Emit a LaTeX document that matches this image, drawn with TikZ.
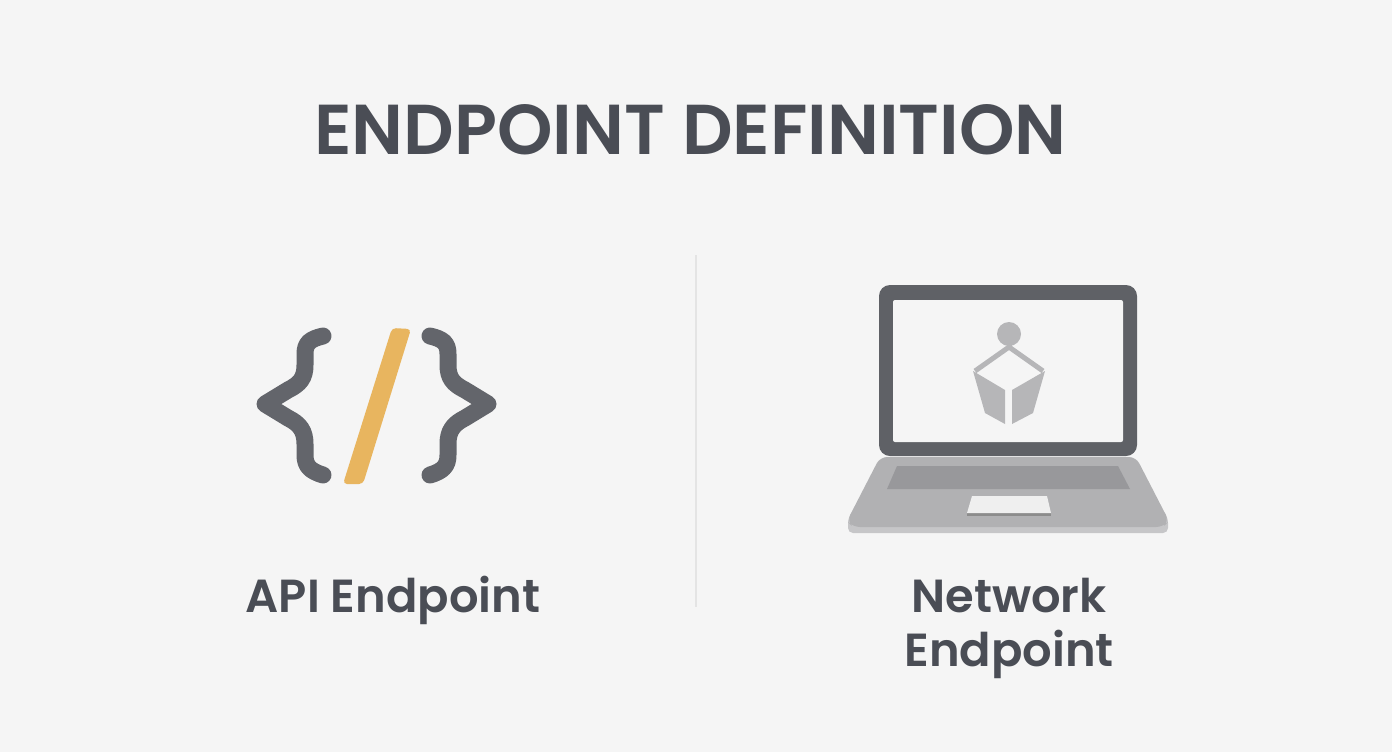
\documentclass[tikz,border=0pt]{standalone}
\usepackage{fontspec}
\setmainfont{Poppins}[BoldFont={Poppins SemiBold}]
\definecolor{bgcol}{HTML}{F5F5F5}
\definecolor{inkcol}{HTML}{4A4D55}
\definecolor{bracecol}{HTML}{63656B}
\definecolor{slashcol}{HTML}{E8B55F}
\definecolor{linecol}{HTML}{E4E4E4}
\definecolor{framecol}{HTML}{5F6166}
\definecolor{basecol}{HTML}{B1B1B3}
\definecolor{rimcol}{HTML}{C6C6C8}
\definecolor{keycol}{HTML}{98989B}
\definecolor{padcol}{HTML}{EFEFEF}
\definecolor{iconcol}{HTML}{B6B6B8}
\tikzset{
  caption/.style={text=inkcol, font=\fontsize{26.4}{30.7}\selectfont\bfseries, align=center, inner sep=0pt},
  bracket/.style={draw=bracecol, line width=17*0.02cm, line cap=round, line join=round},
}
\begin{document}
\begin{tikzpicture}[x=0.02cm,y=-0.02cm]
\fill[bgcol] (0,0) rectangle (1392,752);
\useasboundingbox (0,0) rectangle (1392,752);
\node[caption, font=\fontsize{40.2}{44}\selectfont\bfseries] (title) at (690.5,130) {ENDPOINT DEFINITION};
\draw[linecol, line width=0.03cm] (696,255) -- (696,607);

% code icon
\path[bracket] (323,336) .. controls (310,339) and (305,343) .. (305,354) -- (305,365) .. controls (305,378) and (300,384) .. (288,390) -- (265,404) -- (288,418) .. controls (300,424) and (305,431) .. (305,444) -- (305,455) .. controls (305,466) and (310,471) .. (323,475);
\path[bracket] (430,336) .. controls (443,339) and (448,343) .. (448,354) -- (448,365) .. controls (448,378) and (453,384) .. (465,390) -- (488,404) -- (465,418) .. controls (453,424) and (448,431) .. (448,444) -- (448,455) .. controls (448,466) and (443,471) .. (430,475);
\fill[slashcol, rounded corners=4*0.02cm] (392,328) -- (411,329) -- (363,484) -- (343,484) -- cycle;

% laptop
\fill[rimcol, rounded corners=0.1cm] (880,470) -- (1136,470) -- (1168,518) -- (1168,533) -- (848,533) -- (848,518) -- cycle;
\fill[basecol, rounded corners=0.14cm] (880,457) -- (1136,457) -- (1169,521) -- (1163,527) -- (853,527) -- (847,521) -- cycle;
\fill[keycol] (897,466) -- (1118,466) -- (1130,489) -- (887,489) -- cycle;
\fill[black!45] (967,513) -- (1051,513) -- (1051,516) -- (967,516) -- cycle;
\fill[padcol] (972,496) -- (1047,496) -- (1051,513) -- (967,513) -- cycle;
\fill[framecol, rounded corners=0.22cm] (879,285) rectangle (1137,456);
\fill[bgcol, rounded corners=0.04cm] (893,300) rectangle (1123,442);

% icon on the screen
\fill[iconcol] (1009,334) circle (12*0.02cm);
\draw[iconcol, line width=0.1cm, line join=miter] (975,371) -- (1009,347) -- (1043,371);
\draw[iconcol, line width=0.1cm] (1009,340) -- (1009,347);
\fill[iconcol] (973,371) -- (1005,390) -- (1005,424) -- (985,413) -- cycle;
\fill[iconcol] (1045,371) -- (1012,390) -- (1012,424) -- (1033,413) -- cycle;

\node[caption] (api) at (393,600) {API Endpoint};
\node[caption] (network) at (1009,628) {Network\\Endpoint};
\end{tikzpicture}
\end{document}
